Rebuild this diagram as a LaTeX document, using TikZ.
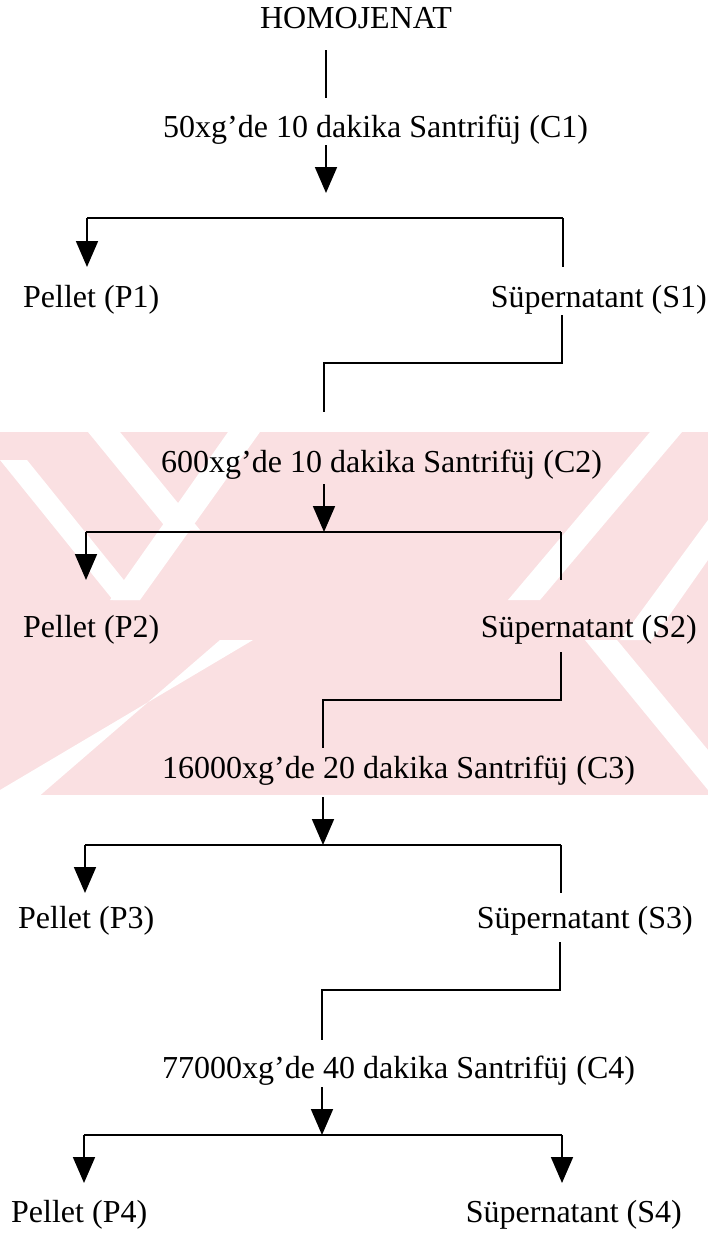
\documentclass[tikz,border=0pt]{standalone}
\usepackage{fontspec}
\setmainfont{Liberation Serif}
\usetikzlibrary{arrows.meta}
\definecolor{wmpink}{RGB}{250,224,226}
\begin{document}
\begin{tikzpicture}[x=1pt,y=-1pt,
  lbl/.style={inner sep=0pt,font=\fontsize{32}{38}\selectfont},
  conn/.style={line width=1.8pt,black},
  tip/.style={conn,-{Triangle[width=22pt,length=26pt]}}]
\useasboundingbox (0,0) rectangle (708,1234);
\fill[white] (0,0) rectangle (708,1234);
% watermark band
\fill[wmpink] (0,432) rectangle (708,795);
\begin{scope}
\clip (0,432) rectangle (708,795);
\fill[white] (88,432) -- (120,432) -- (200,530) -- (168,530) -- cycle;
\fill[white] (0,460) -- (27,460) -- (140,600) -- (113,600) -- cycle;
\fill[white] (228,432) -- (260,432) -- (140,600) -- (110,600) -- cycle;
\fill[white] (253,640) -- (220,640) -- (0,830) -- (0,790) -- cycle;
\fill[white] (650,432) -- (682,432) -- (540,600) -- (508,600) -- cycle;
\fill[white] (585,640) -- (617,640) -- (708,750) -- (708,790) -- cycle;
\fill[white] (708,520) -- (708,560) -- (652,640) -- (620,640) -- cycle;
\end{scope}

% labels
\node[lbl,anchor=base] (hom) at (356,28) {HOMOJENAT};
\node[lbl,anchor=base west] (c1) at (163,137) {50xg’de 10 dakika Santrifüj (C1)};
\node[lbl,anchor=base west] (p1) at (23,307) {Pellet (P1)};
\node[lbl,anchor=base east] (s1) at (707,307) {Süpernatant (S1)};
\node[lbl,anchor=base west] (c2) at (161,472) {600xg’de 10 dakika Santrifüj (C2)};
\node[lbl,anchor=base west] (p2) at (23,637) {Pellet (P2)};
\node[lbl,anchor=base east] (s2) at (697,637) {Süpernatant (S2)};
\node[lbl,anchor=base west] (c3) at (162,778) {16000xg’de 20 dakika Santrifüj (C3)};
\node[lbl,anchor=base west] (p3) at (18,928) {Pellet (P3)};
\node[lbl,anchor=base east] (s3) at (693,928) {Süpernatant (S3)};
\node[lbl,anchor=base west] (c4) at (162,1078) {77000xg’de 40 dakika Santrifüj (C4)};
\node[lbl,anchor=base west] (p4) at (11,1222) {Pellet (P4)};
\node[lbl,anchor=base east] (s4) at (682,1222) {Süpernatant (S4)};

% junction points
\coordinate (h0) at (326,50);  \coordinate (h1) at (326,98);
\coordinate (a1s) at (326,145); \coordinate (a1e) at (326,193);
\coordinate (b1l) at (87,218);  \coordinate (b1r) at (563,218);
\coordinate (p1t) at (87,267);  \coordinate (s1t) at (563,267);
\coordinate (s1b) at (562,315); \coordinate (k1r) at (562,363);
\coordinate (k1l) at (324,363); \coordinate (c2t) at (324,412);
\coordinate (a2s) at (324,484); \coordinate (a2e) at (324,532);
\coordinate (b2l) at (86,532);  \coordinate (b2r) at (561,532);
\coordinate (p2t) at (86,580);  \coordinate (s2t) at (561,580);
\coordinate (s2b) at (561,652); \coordinate (k2r) at (561,700);
\coordinate (k2l) at (323,700); \coordinate (c3t) at (323,748);
\coordinate (a3s) at (323,797); \coordinate (a3e) at (323,845);
\coordinate (b3l) at (85,845);  \coordinate (b3r) at (561,845);
\coordinate (p3t) at (85,893);  \coordinate (s3t) at (561,893);
\coordinate (s3b) at (560,942); \coordinate (k3r) at (560,990);
\coordinate (k3l) at (322,990); \coordinate (c4t) at (322,1040);
\coordinate (a4s) at (322,1087); \coordinate (a4e) at (322,1135);
\coordinate (b4l) at (84,1135); \coordinate (b4r) at (562,1135);
\coordinate (p4t) at (84,1183); \coordinate (s4t) at (562,1183);

% stage 1
\draw[conn] (h0) -- (h1);
\draw[tip] (a1s) -- (a1e);
\draw[conn] (b1r) -- (b1l);
\draw[tip] (b1l) -- (p1t);
\draw[conn] (b1r) -- (s1t);
\draw[conn] (s1b) -- (k1r) -- (k1l) -- (c2t);
% stage 2
\draw[tip] (a2s) -- (a2e);
\draw[conn] (b2r) -- (b2l);
\draw[tip] (b2l) -- (p2t);
\draw[conn] (b2r) -- (s2t);
\draw[conn] (s2b) -- (k2r) -- (k2l) -- (c3t);
% stage 3
\draw[tip] (a3s) -- (a3e);
\draw[conn] (b3r) -- (b3l);
\draw[tip] (b3l) -- (p3t);
\draw[conn] (b3r) -- (s3t);
\draw[conn] (s3b) -- (k3r) -- (k3l) -- (c4t);
% stage 4
\draw[tip] (a4s) -- (a4e);
\draw[conn] (b4r) -- (b4l);
\draw[tip] (b4l) -- (p4t);
\draw[tip] (b4r) -- (s4t);
\end{tikzpicture}
\end{document}
